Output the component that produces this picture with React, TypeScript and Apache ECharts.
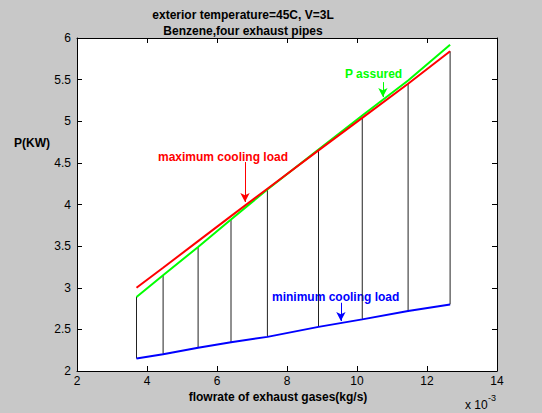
import React, { useEffect, useRef } from "react";
import * as echarts from "echarts";

const flow = [3.7, 4.46, 5.46, 6.4, 7.44, 8.9, 10.15, 11.46, 12.66];
const maxLoad = [3.0, 3.24, 3.56, 3.86, 4.19, 4.65, 5.04, 5.45, 5.84];
const pAssured = [2.89, 3.15, 3.49, 3.82, 4.18, 4.66, 5.07, 5.49, 5.92];
const minLoad = [2.15, 2.2, 2.28, 2.345, 2.41, 2.53, 2.62, 2.72, 2.8];

const titleLines = ["exterior temperature=45C, V=3L", "Benzene,four exhaust pipes"];
const xName = "flowrate of exhaust gases(kg/s)";
const yName = "P(KW)";

const FONT = "Liberation Sans, Arial, sans-serif";

export default function App() {
  const ref = useRef<HTMLDivElement>(null);
  useEffect(() => {
    document.body.style.margin = "0";
    const chart = echarts.init(ref.current!, null, { renderer: "svg" });
    const pair = (ys: number[]) => flow.map((x, i) => [x, ys[i]]);
    const bars = flow.map((x, i) => [x, minLoad[i], Math.min(maxLoad[i], pAssured[i])]);
    const arrow = (color: string, x: number, y1: number, y2: number) => ({
      silent: true,
      symbol: ["none", "arrow"],
      symbolSize: [7, 9],
      label: { show: false },
      lineStyle: { color, width: 1, type: "solid" },
      data: [[{ coord: [x, y1] }, { coord: [x, y2] }]],
    });
    const axisCommon = {
      min: 2,
      interval: 2,
      axisLine: { show: true, onZero: false, lineStyle: { color: "#000", width: 1 } },
      axisTick: { show: true, inside: true, length: 5, lineStyle: { color: "#000" } },
      splitLine: { show: false },
    };
    chart.setOption({
      animation: false,
      backgroundColor: "#c8c8c8",
      grid: { left: 77, right: 45, top: 38, bottom: 42, show: true, backgroundColor: "#ffffff", borderWidth: 0 },
      xAxis: [
        {
          ...axisCommon,
          type: "value",
          max: 14,
          position: "bottom",
          axisLabel: { color: "#000", fontSize: 12, fontFamily: FONT, margin: 4 },
        },
        {
          ...axisCommon,
          type: "value",
          max: 14,
          position: "top",
          axisLabel: { show: false },
        },
      ],
      yAxis: [
        {
          type: "value",
          min: 2,
          max: 6,
          interval: 0.5,
          position: "left",
          axisLine: { show: true, lineStyle: { color: "#000", width: 1 } },
          axisTick: { show: true, inside: true, length: 5, lineStyle: { color: "#000" } },
          splitLine: { show: false },
          axisLabel: { color: "#000", fontSize: 12, fontFamily: FONT, margin: 6 },
        },
        {
          type: "value",
          min: 2,
          max: 6,
          interval: 0.5,
          position: "right",
          axisLine: { show: true, lineStyle: { color: "#000", width: 1 } },
          axisTick: { show: true, inside: true, length: 5, lineStyle: { color: "#000" } },
          splitLine: { show: false },
          axisLabel: { show: false },
        },
      ],
      series: [
        {
          type: "custom",
          data: bars,
          renderItem: (params: any, api: any) => {
            const x = api.value(0);
            const p1 = api.coord([x, api.value(1)]);
            const p2 = api.coord([x, api.value(2)]);
            return {
              type: "line",
              shape: { x1: p1[0], y1: p1[1], x2: p2[0], y2: p2[1] },
              style: { stroke: "#222", lineWidth: 1 },
            };
          },
          silent: true,
          z: 1,
        },
        {
          type: "line",
          data: pair(minLoad),
          showSymbol: false,
          lineStyle: { color: "#0000ff", width: 2 },
          z: 3,
          markLine: arrow("#0000ff", 9.54, 2.82, 2.6),
        },
        {
          type: "line",
          data: pair(pAssured),
          showSymbol: false,
          lineStyle: { color: "#00ff00", width: 2 },
          z: 3,
          markLine: arrow("#00ff00", 10.74, 5.47, 5.29),
        },
        {
          type: "line",
          data: pair(maxLoad),
          showSymbol: false,
          lineStyle: { color: "#ff0000", width: 2 },
          z: 4,
          markLine: arrow("#ff0000", 6.8, 4.51, 4.03),
        },
      ],
      graphic: [
        {
          type: "text",
          x: 243,
          y: 15,
          style: { text: titleLines[0], font: `bold 12px ${FONT}`, fill: "#000", align: "center", verticalAlign: "middle" },
        },
        {
          type: "text",
          x: 243,
          y: 31,
          style: { text: titleLines[1], font: `bold 12px ${FONT}`, fill: "#000", align: "center", verticalAlign: "middle" },
        },
        {
          type: "text",
          x: 14,
          y: 143,
          style: { text: yName, font: `bold 12px ${FONT}`, fill: "#000", align: "left", verticalAlign: "middle" },
        },
        {
          type: "text",
          x: 278,
          y: 397,
          style: { text: xName, font: `bold 12px ${FONT}`, fill: "#000", align: "center", verticalAlign: "middle" },
        },
        {
          type: "text",
          x: 465,
          y: 405,
          style: { text: "x 10", font: `12px ${FONT}`, fill: "#000", align: "left", verticalAlign: "middle" },
        },
        {
          type: "text",
          x: 488,
          y: 398,
          style: { text: "-3", font: `9px ${FONT}`, fill: "#000", align: "left", verticalAlign: "middle" },
        },
        {
          type: "text",
          x: 158,
          y: 157,
          style: { text: "maximum cooling load", font: `bold 12px ${FONT}`, fill: "#ff0000", align: "left", verticalAlign: "middle" },
        },
        {
          type: "text",
          x: 345,
          y: 74,
          style: { text: "P assured", font: `bold 12px ${FONT}`, fill: "#00ff00", align: "left", verticalAlign: "middle" },
        },
        {
          type: "text",
          x: 272,
          y: 297,
          style: { text: "minimum cooling load", font: `bold 12px ${FONT}`, fill: "#0000ff", align: "left", verticalAlign: "middle" },
        },
      ],
    });
    return () => chart.dispose();
  }, []);
  return (
    <div
      ref={ref}
      style={{ position: "absolute", left: 0, top: 0, width: 542, height: 413 }}
    />
  );
}
